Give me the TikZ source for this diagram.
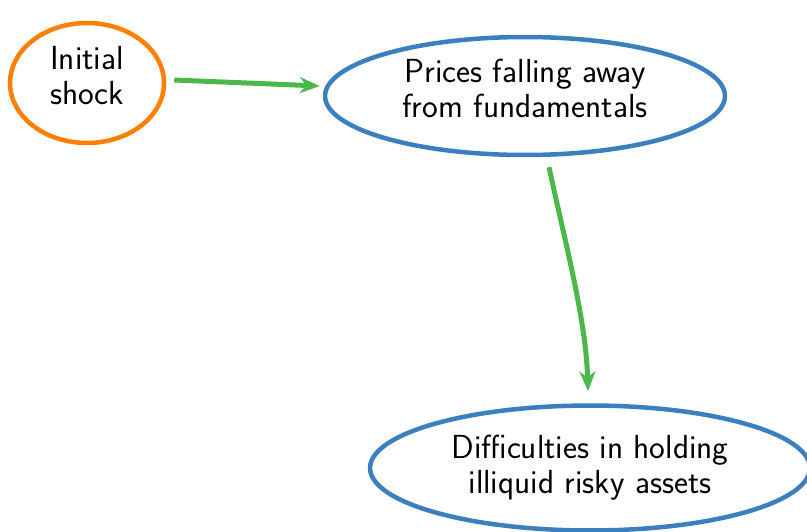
\documentclass[tikz,border=0pt]{standalone}
\usepackage{fontspec}
\usepackage{tikz}
\usetikzlibrary{positioning}
\usetikzlibrary{shapes.geometric,arrows.meta,calc}
\definecolor{shockOrange}{HTML}{FF8000}
\definecolor{stageBlue}{HTML}{3B7FBF}
\definecolor{flowGreen}{HTML}{4CB84C}
\newcommand{\liftText}{\rule[-0.3cm]{0pt}{0pt}}
\tikzset{
    stage/.style={ellipse, draw=stageBlue, line width=0.09cm, inner sep=0pt,
        align=center, font=\sffamily\fontsize{19}{20}\selectfont}
}
\tikzset{
    flow/.style={draw=flowGreen, line width=0.1cm,
        -{Stealth[length=0.4cm,width=0.32cm]}}
}
\begin{document}
\begin{tikzpicture}[x=0.02cm,y=-0.02cm]
        \useasboundingbox (0,0) rectangle (807,531);
        \node[stage, draw=shockOrange, minimum width=3.08cm, minimum height=2.4cm] (shock) at (87,83) {Initial\\shock\liftText};
        \node[stage, minimum width=8cm, minimum height=2.36cm] (prices) at (525,96) {Prices falling away\\from fundamentals\liftText};
        \node[stage, minimum width=8.8cm, minimum height=2.5cm] (holding) at (590,468) {Difficulties in holding\\illiquid risky assets};
        % text sits a bit above the centre, as on the slide
        \draw[flow] ($(shock.east)+(8,-3)$) -- ($(prices.west)+(-3,-10)$);
        \draw[flow] ($(prices.south)+(24,10)$) .. controls +(16,75) and +(-2,-72) .. ($(holding.north)+(-2,-12)$);
\end{tikzpicture}
\end{document}
